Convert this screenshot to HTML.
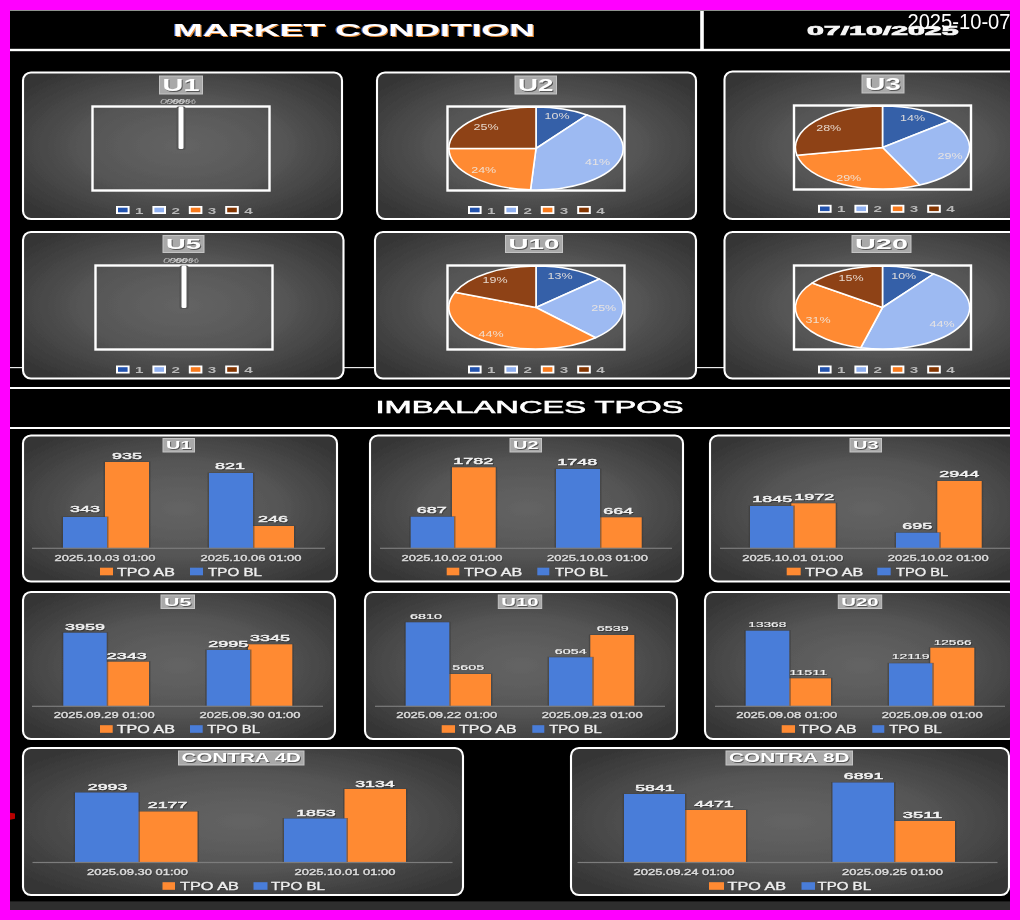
<!DOCTYPE html>
<html lang="en"><head><meta charset="utf-8"><title>Market Condition</title>
<style>
html,body{margin:0;padding:0;background:#ff00ff;}
body{width:1020px;height:920px;position:relative;overflow:hidden;font-family:'Liberation Sans', sans-serif;}
#stage{position:absolute;left:10px;top:10px;width:1000px;height:900px;overflow:hidden;background:#000;}
#stage svg{position:absolute;left:0;top:0;}
svg text{font-family:'Liberation Sans', sans-serif;}
#topline{position:absolute;left:10px;top:10px;width:1000px;height:1px;background:#8e928e;}
#stamp{position:absolute;right:9.2px;top:10.4px;font-size:22.4px;line-height:23px;color:#fff;white-space:nowrap;transform:scaleX(0.9);transform-origin:right center;}
</style></head><body>
<div id="stage">
<svg width="1000" height="900" viewBox="10 10 1000 900">
<g filter="url(#bs)"><defs>
<radialGradient id="pg" cx="50%" cy="50%" r="62%"><stop offset="0" stop-color="#646464"/><stop offset="0.5" stop-color="#565656"/><stop offset="1" stop-color="#363636"/></radialGradient>
<filter id="bs" x="0" y="0" width="1030" height="930" filterUnits="userSpaceOnUse"><feGaussianBlur stdDeviation="0.45"/></filter>
<filter id="bt" x="0" y="0" width="1030" height="930" filterUnits="userSpaceOnUse"><feGaussianBlur stdDeviation="0.75"/></filter>
</defs>
<rect x="10" y="10" width="1000" height="900" fill="#000"/>
<rect x="10" y="48.8" width="1000" height="2.4" fill="#fff"/>
<rect x="700.2" y="10" width="3.6" height="40" fill="#fff"/>
<rect x="10" y="367" width="1000" height="1.2" fill="#e8e8e8"/>
<rect x="10" y="387" width="1000" height="2" fill="#fff"/>
<rect x="10" y="427" width="1000" height="2" fill="#fff"/>
<rect x="23" y="72.5" width="319" height="146.5" rx="8" ry="8" fill="url(#pg)" stroke="#fff" stroke-width="2.1"/>
<rect x="159.5" y="76" width="43.0" height="18" fill="#a9a9a9" stroke="#c4c4c4" stroke-width="1"/>
<rect x="92.5" y="106.5" width="177.0" height="84.0" fill="none" stroke="#fff" stroke-width="2.4"/>
<rect x="176.4" y="106.5" width="9.2" height="43.5" rx="2" fill="#555"/>
<rect x="178.5" y="106.5" width="5.0" height="42.5" rx="1.5" fill="#fff"/>
<rect x="116.0" y="206.0" width="13.6" height="8.0" fill="#fff"/>
<rect x="118.0" y="207.7" width="9.6" height="4.6" fill="#2452ae"/>
<rect x="152.4" y="206.0" width="13.6" height="8.0" fill="#fff"/>
<rect x="154.4" y="207.7" width="9.6" height="4.6" fill="#8fb0f0"/>
<rect x="188.8" y="206.0" width="13.6" height="8.0" fill="#fff"/>
<rect x="190.8" y="207.7" width="9.6" height="4.6" fill="#f87a1c"/>
<rect x="225.2" y="206.0" width="13.6" height="8.0" fill="#fff"/>
<rect x="227.2" y="207.7" width="9.6" height="4.6" fill="#843400"/>
<rect x="377" y="72.5" width="319" height="146.5" rx="8" ry="8" fill="url(#pg)" stroke="#fff" stroke-width="2.1"/>
<rect x="515" y="76" width="41.5" height="18" fill="#a9a9a9" stroke="#c4c4c4" stroke-width="1"/>
<rect x="447.5" y="106.5" width="177.0" height="84.0" fill="none" stroke="#fff" stroke-width="2.4"/>
<path d="M536.0,148.5 L536.00,107.00 A87.1,41.5 0 0 1 587.20,114.93 Z" fill="#3560a8" stroke="#fff" stroke-width="1.6" stroke-linejoin="round"/>
<path d="M536.0,148.5 L587.20,114.93 A87.1,41.5 0 0 1 530.53,189.92 Z" fill="#9dbaf2" stroke="#fff" stroke-width="1.6" stroke-linejoin="round"/>
<path d="M536.0,148.5 L530.53,189.92 A87.1,41.5 0 0 1 448.90,148.50 Z" fill="#ff8a33" stroke="#fff" stroke-width="1.6" stroke-linejoin="round"/>
<path d="M536.0,148.5 L448.90,148.50 A87.1,41.5 0 0 1 536.00,107.00 Z" fill="#8e4312" stroke="#fff" stroke-width="1.6" stroke-linejoin="round"/>
<rect x="468.0" y="206.0" width="13.6" height="8.0" fill="#fff"/>
<rect x="470.0" y="207.7" width="9.6" height="4.6" fill="#2452ae"/>
<rect x="504.4" y="206.0" width="13.6" height="8.0" fill="#fff"/>
<rect x="506.4" y="207.7" width="9.6" height="4.6" fill="#8fb0f0"/>
<rect x="540.8" y="206.0" width="13.6" height="8.0" fill="#fff"/>
<rect x="542.8" y="207.7" width="9.6" height="4.6" fill="#f87a1c"/>
<rect x="577.2" y="206.0" width="13.6" height="8.0" fill="#fff"/>
<rect x="579.2" y="207.7" width="9.6" height="4.6" fill="#843400"/>
<rect x="724.5" y="71.5" width="318.5" height="147.5" rx="8" ry="8" fill="url(#pg)" stroke="#fff" stroke-width="2.1"/>
<rect x="862" y="75" width="42" height="18" fill="#a9a9a9" stroke="#c4c4c4" stroke-width="1"/>
<rect x="794" y="105.5" width="177" height="84.0" fill="none" stroke="#fff" stroke-width="2.4"/>
<path d="M882.5,147.5 L882.50,106.00 A87.1,41.5 0 0 1 949.61,121.05 Z" fill="#3560a8" stroke="#fff" stroke-width="1.6" stroke-linejoin="round"/>
<path d="M882.5,147.5 L949.61,121.05 A87.1,41.5 0 0 1 919.59,185.05 Z" fill="#9dbaf2" stroke="#fff" stroke-width="1.6" stroke-linejoin="round"/>
<path d="M882.5,147.5 L919.59,185.05 A87.1,41.5 0 0 1 796.94,155.28 Z" fill="#ff8a33" stroke="#fff" stroke-width="1.6" stroke-linejoin="round"/>
<path d="M882.5,147.5 L796.94,155.28 A87.1,41.5 0 0 1 882.50,106.00 Z" fill="#8e4312" stroke="#fff" stroke-width="1.6" stroke-linejoin="round"/>
<rect x="818.0" y="204.8" width="13.6" height="8.0" fill="#fff"/>
<rect x="820.0" y="206.5" width="9.6" height="4.6" fill="#2452ae"/>
<rect x="854.4" y="204.8" width="13.6" height="8.0" fill="#fff"/>
<rect x="856.4" y="206.5" width="9.6" height="4.6" fill="#8fb0f0"/>
<rect x="890.8" y="204.8" width="13.6" height="8.0" fill="#fff"/>
<rect x="892.8" y="206.5" width="9.6" height="4.6" fill="#f87a1c"/>
<rect x="927.2" y="204.8" width="13.6" height="8.0" fill="#fff"/>
<rect x="929.2" y="206.5" width="9.6" height="4.6" fill="#843400"/>
<rect x="23" y="232" width="320.5" height="146.5" rx="8" ry="8" fill="url(#pg)" stroke="#fff" stroke-width="2.1"/>
<rect x="163" y="235.5" width="41" height="17.0" fill="#a9a9a9" stroke="#c4c4c4" stroke-width="1"/>
<rect x="95.5" y="265.5" width="177.0" height="84.0" fill="none" stroke="#fff" stroke-width="2.4"/>
<rect x="179.4" y="265.5" width="9.2" height="43.5" rx="2" fill="#555"/>
<rect x="181.5" y="265.5" width="5.0" height="42.5" rx="1.5" fill="#fff"/>
<rect x="116.0" y="365.5" width="13.6" height="8.0" fill="#fff"/>
<rect x="118.0" y="367.2" width="9.6" height="4.6" fill="#2452ae"/>
<rect x="152.4" y="365.5" width="13.6" height="8.0" fill="#fff"/>
<rect x="154.4" y="367.2" width="9.6" height="4.6" fill="#8fb0f0"/>
<rect x="188.8" y="365.5" width="13.6" height="8.0" fill="#fff"/>
<rect x="190.8" y="367.2" width="9.6" height="4.6" fill="#f87a1c"/>
<rect x="225.2" y="365.5" width="13.6" height="8.0" fill="#fff"/>
<rect x="227.2" y="367.2" width="9.6" height="4.6" fill="#843400"/>
<rect x="375" y="232" width="321" height="146.5" rx="8" ry="8" fill="url(#pg)" stroke="#fff" stroke-width="2.1"/>
<rect x="505.5" y="235.5" width="57.0" height="17.0" fill="#a9a9a9" stroke="#c4c4c4" stroke-width="1"/>
<rect x="447.5" y="265.5" width="177.0" height="84.0" fill="none" stroke="#fff" stroke-width="2.4"/>
<path d="M536.0,307.5 L536.00,266.00 A87.1,41.5 0 0 1 599.49,279.09 Z" fill="#3560a8" stroke="#fff" stroke-width="1.6" stroke-linejoin="round"/>
<path d="M536.0,307.5 L599.49,279.09 A87.1,41.5 0 0 1 595.62,337.75 Z" fill="#9dbaf2" stroke="#fff" stroke-width="1.6" stroke-linejoin="round"/>
<path d="M536.0,307.5 L595.62,337.75 A87.1,41.5 0 0 1 455.02,292.22 Z" fill="#ff8a33" stroke="#fff" stroke-width="1.6" stroke-linejoin="round"/>
<path d="M536.0,307.5 L455.02,292.22 A87.1,41.5 0 0 1 536.00,266.00 Z" fill="#8e4312" stroke="#fff" stroke-width="1.6" stroke-linejoin="round"/>
<rect x="468.0" y="365.5" width="13.6" height="8.0" fill="#fff"/>
<rect x="470.0" y="367.2" width="9.6" height="4.6" fill="#2452ae"/>
<rect x="504.4" y="365.5" width="13.6" height="8.0" fill="#fff"/>
<rect x="506.4" y="367.2" width="9.6" height="4.6" fill="#8fb0f0"/>
<rect x="540.8" y="365.5" width="13.6" height="8.0" fill="#fff"/>
<rect x="542.8" y="367.2" width="9.6" height="4.6" fill="#f87a1c"/>
<rect x="577.2" y="365.5" width="13.6" height="8.0" fill="#fff"/>
<rect x="579.2" y="367.2" width="9.6" height="4.6" fill="#843400"/>
<rect x="724.5" y="232" width="318.5" height="146.5" rx="8" ry="8" fill="url(#pg)" stroke="#fff" stroke-width="2.1"/>
<rect x="852" y="235.5" width="59" height="17.0" fill="#a9a9a9" stroke="#c4c4c4" stroke-width="1"/>
<rect x="794" y="265.5" width="177" height="84.0" fill="none" stroke="#fff" stroke-width="2.4"/>
<path d="M882.5,307.5 L882.50,266.00 A87.1,41.5 0 0 1 933.70,273.93 Z" fill="#3560a8" stroke="#fff" stroke-width="1.6" stroke-linejoin="round"/>
<path d="M882.5,307.5 L933.70,273.93 A87.1,41.5 0 0 1 860.84,347.70 Z" fill="#9dbaf2" stroke="#fff" stroke-width="1.6" stroke-linejoin="round"/>
<path d="M882.5,307.5 L860.84,347.70 A87.1,41.5 0 0 1 812.03,283.11 Z" fill="#ff8a33" stroke="#fff" stroke-width="1.6" stroke-linejoin="round"/>
<path d="M882.5,307.5 L812.03,283.11 A87.1,41.5 0 0 1 882.50,266.00 Z" fill="#8e4312" stroke="#fff" stroke-width="1.6" stroke-linejoin="round"/>
<rect x="818.0" y="365.5" width="13.6" height="8.0" fill="#fff"/>
<rect x="820.0" y="367.2" width="9.6" height="4.6" fill="#2452ae"/>
<rect x="854.4" y="365.5" width="13.6" height="8.0" fill="#fff"/>
<rect x="856.4" y="367.2" width="9.6" height="4.6" fill="#8fb0f0"/>
<rect x="890.8" y="365.5" width="13.6" height="8.0" fill="#fff"/>
<rect x="892.8" y="367.2" width="9.6" height="4.6" fill="#f87a1c"/>
<rect x="927.2" y="365.5" width="13.6" height="8.0" fill="#fff"/>
<rect x="929.2" y="367.2" width="9.6" height="4.6" fill="#843400"/>
<rect x="23" y="435.5" width="314" height="146.0" rx="8" ry="8" fill="url(#pg)" stroke="#fff" stroke-width="2.1"/>
<rect x="163" y="438.5" width="31.5" height="13.5" fill="#a9a9a9" stroke="#c4c4c4" stroke-width="1"/>
<rect x="103.5" y="461.5" width="47.0" height="86.5" fill="#3a3a3a" opacity="0.55"/>
<rect x="105.0" y="462.0" width="44.0" height="86.0" fill="#ff8a33"/>
<rect x="249.5" y="525.5" width="46.0" height="22.5" fill="#3a3a3a" opacity="0.55"/>
<rect x="251.0" y="526.0" width="43.0" height="22.0" fill="#ff8a33"/>
<rect x="61.5" y="516.5" width="47.0" height="31.5" fill="#3a3a3a" opacity="0.55"/>
<rect x="63.0" y="517.0" width="44.0" height="31.0" fill="#4a7dd9"/>
<rect x="207.5" y="472.5" width="47.0" height="75.5" fill="#3a3a3a" opacity="0.55"/>
<rect x="209.0" y="473.0" width="44.0" height="75.0" fill="#4a7dd9"/>
<rect x="32" y="547.7" width="293" height="1.2" fill="#7c7c7c"/>
<rect x="100.0" y="567.7" width="13.0" height="7.6" fill="#ff8a33"/>
<rect x="190.0" y="567.7" width="13.0" height="7.6" fill="#4a7dd9"/>
<rect x="370" y="435.5" width="313" height="146.0" rx="8" ry="8" fill="url(#pg)" stroke="#fff" stroke-width="2.1"/>
<rect x="510" y="438.5" width="31.5" height="13.5" fill="#a9a9a9" stroke="#c4c4c4" stroke-width="1"/>
<rect x="450.5" y="466.8" width="46.7" height="81.2" fill="#3a3a3a" opacity="0.55"/>
<rect x="452.0" y="467.3" width="43.7" height="80.7" fill="#ff8a33"/>
<rect x="596.5" y="516.8" width="46.7" height="31.2" fill="#3a3a3a" opacity="0.55"/>
<rect x="598.0" y="517.3" width="43.7" height="30.7" fill="#ff8a33"/>
<rect x="409.2" y="516.2" width="46.3" height="31.8" fill="#3a3a3a" opacity="0.55"/>
<rect x="410.7" y="516.7" width="43.3" height="31.3" fill="#4a7dd9"/>
<rect x="554.5" y="468.5" width="47.0" height="79.5" fill="#3a3a3a" opacity="0.55"/>
<rect x="556.0" y="469.0" width="44.0" height="79.0" fill="#4a7dd9"/>
<rect x="380" y="547.7" width="292" height="1.2" fill="#7c7c7c"/>
<rect x="446.7" y="567.7" width="12.6" height="7.6" fill="#ff8a33"/>
<rect x="537.3" y="567.7" width="12.0" height="7.6" fill="#4a7dd9"/>
<rect x="710" y="435.5" width="314" height="146.0" rx="8" ry="8" fill="url(#pg)" stroke="#fff" stroke-width="2.1"/>
<rect x="850" y="438.5" width="31.5" height="13.5" fill="#a9a9a9" stroke="#c4c4c4" stroke-width="1"/>
<rect x="789.8" y="502.8" width="47.4" height="45.2" fill="#3a3a3a" opacity="0.55"/>
<rect x="791.3" y="503.3" width="44.4" height="44.7" fill="#ff8a33"/>
<rect x="935.8" y="480.5" width="47.4" height="67.5" fill="#3a3a3a" opacity="0.55"/>
<rect x="937.3" y="481.0" width="44.4" height="67.0" fill="#ff8a33"/>
<rect x="748.5" y="505.5" width="46.3" height="42.5" fill="#3a3a3a" opacity="0.55"/>
<rect x="750.0" y="506.0" width="43.3" height="42.0" fill="#4a7dd9"/>
<rect x="894.5" y="532.2" width="46.3" height="15.8" fill="#3a3a3a" opacity="0.55"/>
<rect x="896.0" y="532.7" width="43.3" height="15.3" fill="#4a7dd9"/>
<rect x="720" y="547.7" width="290" height="1.2" fill="#7c7c7c"/>
<rect x="786.7" y="567.7" width="14.0" height="7.6" fill="#ff8a33"/>
<rect x="877.3" y="567.7" width="13.4" height="7.6" fill="#4a7dd9"/>
<rect x="23" y="592" width="312" height="147" rx="8" ry="8" fill="url(#pg)" stroke="#fff" stroke-width="2.1"/>
<rect x="161" y="595" width="33.5" height="13.5" fill="#a9a9a9" stroke="#c4c4c4" stroke-width="1"/>
<rect x="103.2" y="661.2" width="47.3" height="44.8" fill="#3a3a3a" opacity="0.55"/>
<rect x="104.7" y="661.7" width="44.3" height="44.3" fill="#ff8a33"/>
<rect x="246.5" y="643.8" width="47.3" height="62.2" fill="#3a3a3a" opacity="0.55"/>
<rect x="248.0" y="644.3" width="44.3" height="61.7" fill="#ff8a33"/>
<rect x="61.8" y="632.2" width="46.4" height="73.8" fill="#3a3a3a" opacity="0.55"/>
<rect x="63.3" y="632.7" width="43.4" height="73.3" fill="#4a7dd9"/>
<rect x="205.2" y="649.5" width="46.3" height="56.5" fill="#3a3a3a" opacity="0.55"/>
<rect x="206.7" y="650.0" width="43.3" height="56.0" fill="#4a7dd9"/>
<rect x="32" y="705.7" width="291" height="1.2" fill="#7c7c7c"/>
<rect x="100.0" y="725.2" width="12.7" height="7.6" fill="#ff8a33"/>
<rect x="190.0" y="725.2" width="12.7" height="7.6" fill="#4a7dd9"/>
<rect x="365" y="592" width="312" height="147" rx="8" ry="8" fill="url(#pg)" stroke="#fff" stroke-width="2.1"/>
<rect x="498.3" y="595" width="43.400000000000034" height="13.5" fill="#a9a9a9" stroke="#c4c4c4" stroke-width="1"/>
<rect x="445.8" y="673.5" width="46.7" height="32.5" fill="#3a3a3a" opacity="0.55"/>
<rect x="447.3" y="674.0" width="43.7" height="32.0" fill="#ff8a33"/>
<rect x="588.8" y="634.5" width="47.0" height="71.5" fill="#3a3a3a" opacity="0.55"/>
<rect x="590.3" y="635.0" width="44.0" height="71.0" fill="#ff8a33"/>
<rect x="404.2" y="621.8" width="46.6" height="84.2" fill="#3a3a3a" opacity="0.55"/>
<rect x="405.7" y="622.3" width="43.6" height="83.7" fill="#4a7dd9"/>
<rect x="547.5" y="656.8" width="46.3" height="49.2" fill="#3a3a3a" opacity="0.55"/>
<rect x="549.0" y="657.3" width="43.3" height="48.7" fill="#4a7dd9"/>
<rect x="375" y="705.7" width="290" height="1.2" fill="#7c7c7c"/>
<rect x="441.7" y="725.2" width="13.3" height="7.6" fill="#ff8a33"/>
<rect x="532.3" y="725.2" width="12.0" height="7.6" fill="#4a7dd9"/>
<rect x="705" y="592" width="312" height="147" rx="8" ry="8" fill="url(#pg)" stroke="#fff" stroke-width="2.1"/>
<rect x="838.3" y="595" width="43.40000000000009" height="13.5" fill="#a9a9a9" stroke="#c4c4c4" stroke-width="1"/>
<rect x="785.8" y="677.8" width="46.7" height="28.2" fill="#3a3a3a" opacity="0.55"/>
<rect x="787.3" y="678.3" width="43.7" height="27.7" fill="#ff8a33"/>
<rect x="928.8" y="647.2" width="47.0" height="58.8" fill="#3a3a3a" opacity="0.55"/>
<rect x="930.3" y="647.7" width="44.0" height="58.3" fill="#ff8a33"/>
<rect x="744.2" y="630.2" width="46.6" height="75.8" fill="#3a3a3a" opacity="0.55"/>
<rect x="745.7" y="630.7" width="43.6" height="75.3" fill="#4a7dd9"/>
<rect x="887.5" y="662.8" width="46.3" height="43.2" fill="#3a3a3a" opacity="0.55"/>
<rect x="889.0" y="663.3" width="43.3" height="42.7" fill="#4a7dd9"/>
<rect x="715" y="705.7" width="290" height="1.2" fill="#7c7c7c"/>
<rect x="781.7" y="725.2" width="13.3" height="7.6" fill="#ff8a33"/>
<rect x="872.3" y="725.2" width="12.0" height="7.6" fill="#4a7dd9"/>
<rect x="23" y="748" width="440" height="147" rx="8" ry="8" fill="url(#pg)" stroke="#fff" stroke-width="2.1"/>
<rect x="178.5" y="751" width="125.5" height="14" fill="#a9a9a9" stroke="#c4c4c4" stroke-width="1"/>
<rect x="135.0" y="811.0" width="64.0" height="51.2" fill="#3a3a3a" opacity="0.55"/>
<rect x="136.5" y="811.5" width="61.0" height="50.7" fill="#ff8a33"/>
<rect x="343.0" y="788.5" width="64.5" height="73.7" fill="#3a3a3a" opacity="0.55"/>
<rect x="344.5" y="789.0" width="61.5" height="73.2" fill="#ff8a33"/>
<rect x="73.5" y="792.0" width="66.5" height="70.2" fill="#3a3a3a" opacity="0.55"/>
<rect x="75.0" y="792.5" width="63.5" height="69.7" fill="#4a7dd9"/>
<rect x="282.5" y="818.0" width="65.5" height="44.2" fill="#3a3a3a" opacity="0.55"/>
<rect x="284.0" y="818.5" width="62.5" height="43.7" fill="#4a7dd9"/>
<rect x="32.5" y="861.9" width="420.0" height="1.2" fill="#7c7c7c"/>
<rect x="162.5" y="882.2" width="12.5" height="7.6" fill="#ff8a33"/>
<rect x="253.5" y="882.2" width="14.0" height="7.6" fill="#4a7dd9"/>
<rect x="571" y="748" width="438" height="147" rx="8" ry="8" fill="url(#pg)" stroke="#fff" stroke-width="2.1"/>
<rect x="726" y="751" width="126.5" height="14" fill="#a9a9a9" stroke="#c4c4c4" stroke-width="1"/>
<rect x="681.5" y="809.5" width="66.0" height="52.7" fill="#3a3a3a" opacity="0.55"/>
<rect x="683.0" y="810.0" width="63.0" height="52.2" fill="#ff8a33"/>
<rect x="890.5" y="820.5" width="66.0" height="41.7" fill="#3a3a3a" opacity="0.55"/>
<rect x="892.0" y="821.0" width="63.0" height="41.2" fill="#ff8a33"/>
<rect x="622.5" y="793.5" width="64.0" height="68.7" fill="#3a3a3a" opacity="0.55"/>
<rect x="624.0" y="794.0" width="61.0" height="68.2" fill="#4a7dd9"/>
<rect x="831.0" y="782.0" width="64.5" height="80.2" fill="#3a3a3a" opacity="0.55"/>
<rect x="832.5" y="782.5" width="61.5" height="79.7" fill="#4a7dd9"/>
<rect x="577.5" y="861.9" width="420.0" height="1.2" fill="#7c7c7c"/>
<rect x="709.0" y="882.2" width="15.0" height="7.6" fill="#ff8a33"/>
<rect x="801.5" y="882.2" width="13.5" height="7.6" fill="#4a7dd9"/>
<rect x="10" y="901.5" width="1000" height="8.5" fill="#2e2e2e"/>
<rect x="10" y="901" width="1000" height="1" fill="#1a1a1a"/>
<path d="M10,812.8 L15,813.6 L15,818.8 L10,819.8 Z" fill="#b80000"/></g>
<g filter="url(#bt)"><text x="171.8" y="36.2" font-size="17.32" font-weight="bold" fill="#3a6ad0" textLength="362.0" lengthAdjust="spacingAndGlyphs" opacity="0.9" >MARKET CONDITION</text>
<text x="174.2" y="36.6" font-size="17.32" font-weight="bold" fill="#ff9a3c" textLength="362.0" lengthAdjust="spacingAndGlyphs" opacity="0.9" >MARKET CONDITION</text>
<text x="173.0" y="36.2" font-size="17.32" font-weight="bold" fill="#fff" textLength="362.0" lengthAdjust="spacingAndGlyphs" >MARKET CONDITION</text>
<text x="807.0" y="34.5" font-size="13.41" font-weight="bold" fill="#f6f6f6" textLength="151.5" lengthAdjust="spacingAndGlyphs" stroke="#f6f6f6" stroke-width="0.7">07/10/2025</text>
<text x="375.5" y="412.6" font-size="16.20" fill="#fff" textLength="308.0" lengthAdjust="spacingAndGlyphs" stroke="#fff" stroke-width="0.55">IMBALANCES TPOS</text>
<text x="163.5" y="91.6" font-size="15.59" font-weight="bold" fill="#555" textLength="37.0" lengthAdjust="spacingAndGlyphs" >U1</text>
<text x="162.5" y="90.6" font-size="15.59" font-weight="bold" fill="#fff" textLength="37.0" lengthAdjust="spacingAndGlyphs" >U1</text>
<text x="160.0" y="103.8" font-size="7.68" fill="#ddd" textLength="18.0" lengthAdjust="spacingAndGlyphs" opacity="0.75" font-style="italic">0%</text>
<text x="166.0" y="103.8" font-size="7.68" fill="#ddd" textLength="18.0" lengthAdjust="spacingAndGlyphs" opacity="0.75" font-style="italic">0%</text>
<text x="172.0" y="103.8" font-size="7.68" fill="#ddd" textLength="18.0" lengthAdjust="spacingAndGlyphs" opacity="0.75" font-style="italic">0%</text>
<text x="178.0" y="103.8" font-size="7.68" fill="#ddd" textLength="18.0" lengthAdjust="spacingAndGlyphs" opacity="0.75" font-style="italic">0%</text>
<text x="135.0" y="213.5" font-size="9.50" font-weight="bold" fill="#b8b8b8" textLength="8.5" lengthAdjust="spacingAndGlyphs" >1</text>
<text x="171.4" y="213.5" font-size="9.50" font-weight="bold" fill="#b8b8b8" textLength="8.5" lengthAdjust="spacingAndGlyphs" >2</text>
<text x="207.8" y="213.5" font-size="9.50" font-weight="bold" fill="#b8b8b8" textLength="8.5" lengthAdjust="spacingAndGlyphs" >3</text>
<text x="244.2" y="213.5" font-size="9.50" font-weight="bold" fill="#b8b8b8" textLength="8.5" lengthAdjust="spacingAndGlyphs" >4</text>
<text x="519.0" y="91.6" font-size="15.59" font-weight="bold" fill="#555" textLength="35.5" lengthAdjust="spacingAndGlyphs" >U2</text>
<text x="518.0" y="90.6" font-size="15.59" font-weight="bold" fill="#fff" textLength="35.5" lengthAdjust="spacingAndGlyphs" >U2</text>
<text x="544.5" y="119.2" font-size="9.08" fill="#f0e8e0" textLength="25.0" lengthAdjust="spacingAndGlyphs" opacity="0.9" >10%</text>
<text x="585.0" y="165.2" font-size="9.08" fill="#f0e8e0" textLength="25.0" lengthAdjust="spacingAndGlyphs" opacity="0.9" >41%</text>
<text x="471.2" y="173.2" font-size="9.08" fill="#f0e8e0" textLength="25.0" lengthAdjust="spacingAndGlyphs" opacity="0.9" >24%</text>
<text x="473.5" y="130.2" font-size="9.08" fill="#f0e8e0" textLength="25.0" lengthAdjust="spacingAndGlyphs" opacity="0.9" >25%</text>
<text x="487.0" y="213.5" font-size="9.50" font-weight="bold" fill="#b8b8b8" textLength="8.5" lengthAdjust="spacingAndGlyphs" >1</text>
<text x="523.4" y="213.5" font-size="9.50" font-weight="bold" fill="#b8b8b8" textLength="8.5" lengthAdjust="spacingAndGlyphs" >2</text>
<text x="559.8" y="213.5" font-size="9.50" font-weight="bold" fill="#b8b8b8" textLength="8.5" lengthAdjust="spacingAndGlyphs" >3</text>
<text x="596.2" y="213.5" font-size="9.50" font-weight="bold" fill="#b8b8b8" textLength="8.5" lengthAdjust="spacingAndGlyphs" >4</text>
<text x="866.0" y="90.6" font-size="15.59" font-weight="bold" fill="#555" textLength="36.0" lengthAdjust="spacingAndGlyphs" >U3</text>
<text x="865.0" y="89.6" font-size="15.59" font-weight="bold" fill="#fff" textLength="36.0" lengthAdjust="spacingAndGlyphs" >U3</text>
<text x="900.0" y="120.8" font-size="9.08" fill="#f0e8e0" textLength="25.0" lengthAdjust="spacingAndGlyphs" opacity="0.9" >14%</text>
<text x="937.5" y="159.2" font-size="9.08" fill="#f0e8e0" textLength="25.0" lengthAdjust="spacingAndGlyphs" opacity="0.9" >29%</text>
<text x="836.2" y="180.8" font-size="9.08" fill="#f0e8e0" textLength="25.0" lengthAdjust="spacingAndGlyphs" opacity="0.9" >29%</text>
<text x="816.2" y="131.2" font-size="9.08" fill="#f0e8e0" textLength="25.0" lengthAdjust="spacingAndGlyphs" opacity="0.9" >28%</text>
<text x="837.0" y="212.3" font-size="9.50" font-weight="bold" fill="#b8b8b8" textLength="8.5" lengthAdjust="spacingAndGlyphs" >1</text>
<text x="873.4" y="212.3" font-size="9.50" font-weight="bold" fill="#b8b8b8" textLength="8.5" lengthAdjust="spacingAndGlyphs" >2</text>
<text x="909.8" y="212.3" font-size="9.50" font-weight="bold" fill="#b8b8b8" textLength="8.5" lengthAdjust="spacingAndGlyphs" >3</text>
<text x="946.2" y="212.3" font-size="9.50" font-weight="bold" fill="#b8b8b8" textLength="8.5" lengthAdjust="spacingAndGlyphs" >4</text>
<text x="167.0" y="250.3" font-size="14.72" font-weight="bold" fill="#555" textLength="35.0" lengthAdjust="spacingAndGlyphs" >U5</text>
<text x="166.0" y="249.3" font-size="14.72" font-weight="bold" fill="#fff" textLength="35.0" lengthAdjust="spacingAndGlyphs" >U5</text>
<text x="163.0" y="262.8" font-size="7.68" fill="#ddd" textLength="18.0" lengthAdjust="spacingAndGlyphs" opacity="0.75" font-style="italic">0%</text>
<text x="169.0" y="262.8" font-size="7.68" fill="#ddd" textLength="18.0" lengthAdjust="spacingAndGlyphs" opacity="0.75" font-style="italic">0%</text>
<text x="175.0" y="262.8" font-size="7.68" fill="#ddd" textLength="18.0" lengthAdjust="spacingAndGlyphs" opacity="0.75" font-style="italic">0%</text>
<text x="181.0" y="262.8" font-size="7.68" fill="#ddd" textLength="18.0" lengthAdjust="spacingAndGlyphs" opacity="0.75" font-style="italic">0%</text>
<text x="135.0" y="373.0" font-size="9.50" font-weight="bold" fill="#b8b8b8" textLength="8.5" lengthAdjust="spacingAndGlyphs" >1</text>
<text x="171.4" y="373.0" font-size="9.50" font-weight="bold" fill="#b8b8b8" textLength="8.5" lengthAdjust="spacingAndGlyphs" >2</text>
<text x="207.8" y="373.0" font-size="9.50" font-weight="bold" fill="#b8b8b8" textLength="8.5" lengthAdjust="spacingAndGlyphs" >3</text>
<text x="244.2" y="373.0" font-size="9.50" font-weight="bold" fill="#b8b8b8" textLength="8.5" lengthAdjust="spacingAndGlyphs" >4</text>
<text x="509.5" y="250.3" font-size="14.72" font-weight="bold" fill="#555" textLength="51.0" lengthAdjust="spacingAndGlyphs" >U10</text>
<text x="508.5" y="249.3" font-size="14.72" font-weight="bold" fill="#fff" textLength="51.0" lengthAdjust="spacingAndGlyphs" >U10</text>
<text x="547.5" y="279.2" font-size="9.08" fill="#f0e8e0" textLength="25.0" lengthAdjust="spacingAndGlyphs" opacity="0.9" >13%</text>
<text x="591.2" y="311.2" font-size="9.08" fill="#f0e8e0" textLength="25.0" lengthAdjust="spacingAndGlyphs" opacity="0.9" >25%</text>
<text x="478.5" y="336.9" font-size="9.08" fill="#f0e8e0" textLength="25.0" lengthAdjust="spacingAndGlyphs" opacity="0.9" >44%</text>
<text x="482.5" y="283.2" font-size="9.08" fill="#f0e8e0" textLength="25.0" lengthAdjust="spacingAndGlyphs" opacity="0.9" >19%</text>
<text x="487.0" y="373.0" font-size="9.50" font-weight="bold" fill="#b8b8b8" textLength="8.5" lengthAdjust="spacingAndGlyphs" >1</text>
<text x="523.4" y="373.0" font-size="9.50" font-weight="bold" fill="#b8b8b8" textLength="8.5" lengthAdjust="spacingAndGlyphs" >2</text>
<text x="559.8" y="373.0" font-size="9.50" font-weight="bold" fill="#b8b8b8" textLength="8.5" lengthAdjust="spacingAndGlyphs" >3</text>
<text x="596.2" y="373.0" font-size="9.50" font-weight="bold" fill="#b8b8b8" textLength="8.5" lengthAdjust="spacingAndGlyphs" >4</text>
<text x="856.0" y="250.3" font-size="14.72" font-weight="bold" fill="#555" textLength="53.0" lengthAdjust="spacingAndGlyphs" >U20</text>
<text x="855.0" y="249.3" font-size="14.72" font-weight="bold" fill="#fff" textLength="53.0" lengthAdjust="spacingAndGlyphs" >U20</text>
<text x="891.2" y="278.8" font-size="9.08" fill="#f0e8e0" textLength="25.0" lengthAdjust="spacingAndGlyphs" opacity="0.9" >10%</text>
<text x="929.5" y="326.9" font-size="9.08" fill="#f0e8e0" textLength="25.0" lengthAdjust="spacingAndGlyphs" opacity="0.9" >44%</text>
<text x="805.5" y="322.8" font-size="9.08" fill="#f0e8e0" textLength="25.0" lengthAdjust="spacingAndGlyphs" opacity="0.9" >31%</text>
<text x="838.5" y="280.8" font-size="9.08" fill="#f0e8e0" textLength="25.0" lengthAdjust="spacingAndGlyphs" opacity="0.9" >15%</text>
<text x="837.0" y="373.0" font-size="9.50" font-weight="bold" fill="#b8b8b8" textLength="8.5" lengthAdjust="spacingAndGlyphs" >1</text>
<text x="873.4" y="373.0" font-size="9.50" font-weight="bold" fill="#b8b8b8" textLength="8.5" lengthAdjust="spacingAndGlyphs" >2</text>
<text x="909.8" y="373.0" font-size="9.50" font-weight="bold" fill="#b8b8b8" textLength="8.5" lengthAdjust="spacingAndGlyphs" >3</text>
<text x="946.2" y="373.0" font-size="9.50" font-weight="bold" fill="#b8b8b8" textLength="8.5" lengthAdjust="spacingAndGlyphs" >4</text>
<text x="167.0" y="450.4" font-size="11.69" font-weight="bold" fill="#555" textLength="25.5" lengthAdjust="spacingAndGlyphs" >U1</text>
<text x="166.0" y="449.4" font-size="11.69" font-weight="bold" fill="#fff" textLength="25.5" lengthAdjust="spacingAndGlyphs" >U1</text>
<text x="70.9" y="513.3" font-size="9.50" fill="#333" textLength="30.0" lengthAdjust="spacingAndGlyphs" opacity="0.8" stroke="#333" stroke-width="0.45">343</text>
<text x="70.0" y="512.4" font-size="9.50" fill="#f2f2f2" textLength="30.0" lengthAdjust="spacingAndGlyphs" stroke="#f2f2f2" stroke-width="0.45">343</text>
<text x="112.9" y="460.3" font-size="9.50" fill="#333" textLength="30.0" lengthAdjust="spacingAndGlyphs" opacity="0.8" stroke="#333" stroke-width="0.45">935</text>
<text x="112.0" y="459.4" font-size="9.50" fill="#f2f2f2" textLength="30.0" lengthAdjust="spacingAndGlyphs" stroke="#f2f2f2" stroke-width="0.45">935</text>
<text x="215.9" y="470.3" font-size="9.50" fill="#333" textLength="30.0" lengthAdjust="spacingAndGlyphs" opacity="0.8" stroke="#333" stroke-width="0.45">821</text>
<text x="215.0" y="469.4" font-size="9.50" fill="#f2f2f2" textLength="30.0" lengthAdjust="spacingAndGlyphs" stroke="#f2f2f2" stroke-width="0.45">821</text>
<text x="258.9" y="523.3" font-size="9.50" fill="#333" textLength="30.0" lengthAdjust="spacingAndGlyphs" opacity="0.8" stroke="#333" stroke-width="0.45">246</text>
<text x="258.0" y="522.4" font-size="9.50" fill="#f2f2f2" textLength="30.0" lengthAdjust="spacingAndGlyphs" stroke="#f2f2f2" stroke-width="0.45">246</text>
<text x="55.2" y="562.0" font-size="9.08" fill="#333" textLength="101.0" lengthAdjust="spacingAndGlyphs" opacity="0.7" stroke="#333" stroke-width="0.4">2025.10.03 01:00</text>
<text x="54.5" y="561.2" font-size="9.08" fill="#dcdcdc" textLength="101.0" lengthAdjust="spacingAndGlyphs" stroke="#dcdcdc" stroke-width="0.4">2025.10.03 01:00</text>
<text x="201.2" y="562.0" font-size="9.08" fill="#333" textLength="101.0" lengthAdjust="spacingAndGlyphs" opacity="0.7" stroke="#333" stroke-width="0.4">2025.10.06 01:00</text>
<text x="200.5" y="561.2" font-size="9.08" fill="#dcdcdc" textLength="101.0" lengthAdjust="spacingAndGlyphs" stroke="#dcdcdc" stroke-width="0.4">2025.10.06 01:00</text>
<text x="117.7" y="576.4" font-size="11.73" fill="#333" textLength="58.0" lengthAdjust="spacingAndGlyphs" opacity="0.7" >TPO AB</text>
<text x="117.0" y="575.7" font-size="11.73" fill="#efefef" textLength="58.0" lengthAdjust="spacingAndGlyphs" stroke="#efefef" stroke-width="0.35">TPO AB</text>
<text x="208.7" y="576.4" font-size="11.73" fill="#333" textLength="54.0" lengthAdjust="spacingAndGlyphs" opacity="0.7" >TPO BL</text>
<text x="208.0" y="575.7" font-size="11.73" fill="#efefef" textLength="54.0" lengthAdjust="spacingAndGlyphs" stroke="#efefef" stroke-width="0.35">TPO BL</text>
<text x="514.0" y="450.4" font-size="11.69" font-weight="bold" fill="#555" textLength="25.5" lengthAdjust="spacingAndGlyphs" >U2</text>
<text x="513.0" y="449.4" font-size="11.69" font-weight="bold" fill="#fff" textLength="25.5" lengthAdjust="spacingAndGlyphs" >U2</text>
<text x="417.6" y="513.6" font-size="9.50" fill="#333" textLength="30.0" lengthAdjust="spacingAndGlyphs" opacity="0.8" stroke="#333" stroke-width="0.45">687</text>
<text x="416.7" y="512.7" font-size="9.50" fill="#f2f2f2" textLength="30.0" lengthAdjust="spacingAndGlyphs" stroke="#f2f2f2" stroke-width="0.45">687</text>
<text x="454.2" y="465.0" font-size="9.50" fill="#333" textLength="40.0" lengthAdjust="spacingAndGlyphs" opacity="0.8" stroke="#333" stroke-width="0.45">1782</text>
<text x="453.3" y="464.1" font-size="9.50" fill="#f2f2f2" textLength="40.0" lengthAdjust="spacingAndGlyphs" stroke="#f2f2f2" stroke-width="0.45">1782</text>
<text x="558.2" y="466.0" font-size="9.50" fill="#333" textLength="40.0" lengthAdjust="spacingAndGlyphs" opacity="0.8" stroke="#333" stroke-width="0.45">1748</text>
<text x="557.3" y="465.1" font-size="9.50" fill="#f2f2f2" textLength="40.0" lengthAdjust="spacingAndGlyphs" stroke="#f2f2f2" stroke-width="0.45">1748</text>
<text x="604.2" y="515.0" font-size="9.50" fill="#333" textLength="30.0" lengthAdjust="spacingAndGlyphs" opacity="0.8" stroke="#333" stroke-width="0.45">664</text>
<text x="603.3" y="514.1" font-size="9.50" fill="#f2f2f2" textLength="30.0" lengthAdjust="spacingAndGlyphs" stroke="#f2f2f2" stroke-width="0.45">664</text>
<text x="402.2" y="562.0" font-size="9.08" fill="#333" textLength="101.0" lengthAdjust="spacingAndGlyphs" opacity="0.7" stroke="#333" stroke-width="0.4">2025.10.02 01:00</text>
<text x="401.5" y="561.2" font-size="9.08" fill="#dcdcdc" textLength="101.0" lengthAdjust="spacingAndGlyphs" stroke="#dcdcdc" stroke-width="0.4">2025.10.02 01:00</text>
<text x="547.7" y="562.0" font-size="9.08" fill="#333" textLength="101.0" lengthAdjust="spacingAndGlyphs" opacity="0.7" stroke="#333" stroke-width="0.4">2025.10.03 01:00</text>
<text x="547.0" y="561.2" font-size="9.08" fill="#dcdcdc" textLength="101.0" lengthAdjust="spacingAndGlyphs" stroke="#dcdcdc" stroke-width="0.4">2025.10.03 01:00</text>
<text x="464.7" y="576.4" font-size="11.73" fill="#333" textLength="58.3" lengthAdjust="spacingAndGlyphs" opacity="0.7" >TPO AB</text>
<text x="464.0" y="575.7" font-size="11.73" fill="#efefef" textLength="58.3" lengthAdjust="spacingAndGlyphs" stroke="#efefef" stroke-width="0.35">TPO AB</text>
<text x="555.7" y="576.4" font-size="11.73" fill="#333" textLength="52.7" lengthAdjust="spacingAndGlyphs" opacity="0.7" >TPO BL</text>
<text x="555.0" y="575.7" font-size="11.73" fill="#efefef" textLength="52.7" lengthAdjust="spacingAndGlyphs" stroke="#efefef" stroke-width="0.35">TPO BL</text>
<text x="854.0" y="450.4" font-size="11.69" font-weight="bold" fill="#555" textLength="25.5" lengthAdjust="spacingAndGlyphs" >U3</text>
<text x="853.0" y="449.4" font-size="11.69" font-weight="bold" fill="#fff" textLength="25.5" lengthAdjust="spacingAndGlyphs" >U3</text>
<text x="753.2" y="503.3" font-size="9.50" fill="#333" textLength="40.0" lengthAdjust="spacingAndGlyphs" opacity="0.8" stroke="#333" stroke-width="0.45">1845</text>
<text x="752.3" y="502.4" font-size="9.50" fill="#f2f2f2" textLength="40.0" lengthAdjust="spacingAndGlyphs" stroke="#f2f2f2" stroke-width="0.45">1845</text>
<text x="795.2" y="501.0" font-size="9.50" fill="#333" textLength="40.0" lengthAdjust="spacingAndGlyphs" opacity="0.8" stroke="#333" stroke-width="0.45">1972</text>
<text x="794.3" y="500.1" font-size="9.50" fill="#f2f2f2" textLength="40.0" lengthAdjust="spacingAndGlyphs" stroke="#f2f2f2" stroke-width="0.45">1972</text>
<text x="903.2" y="530.3" font-size="9.50" fill="#333" textLength="30.0" lengthAdjust="spacingAndGlyphs" opacity="0.8" stroke="#333" stroke-width="0.45">695</text>
<text x="902.3" y="529.4" font-size="9.50" fill="#f2f2f2" textLength="30.0" lengthAdjust="spacingAndGlyphs" stroke="#f2f2f2" stroke-width="0.45">695</text>
<text x="940.2" y="478.3" font-size="9.50" fill="#333" textLength="40.0" lengthAdjust="spacingAndGlyphs" opacity="0.8" stroke="#333" stroke-width="0.45">2944</text>
<text x="939.3" y="477.4" font-size="9.50" fill="#f2f2f2" textLength="40.0" lengthAdjust="spacingAndGlyphs" stroke="#f2f2f2" stroke-width="0.45">2944</text>
<text x="742.9" y="562.0" font-size="9.08" fill="#333" textLength="101.0" lengthAdjust="spacingAndGlyphs" opacity="0.7" stroke="#333" stroke-width="0.4">2025.10.01 01:00</text>
<text x="742.2" y="561.2" font-size="9.08" fill="#dcdcdc" textLength="101.0" lengthAdjust="spacingAndGlyphs" stroke="#dcdcdc" stroke-width="0.4">2025.10.01 01:00</text>
<text x="888.5" y="562.0" font-size="9.08" fill="#333" textLength="101.0" lengthAdjust="spacingAndGlyphs" opacity="0.7" stroke="#333" stroke-width="0.4">2025.10.02 01:00</text>
<text x="887.8" y="561.2" font-size="9.08" fill="#dcdcdc" textLength="101.0" lengthAdjust="spacingAndGlyphs" stroke="#dcdcdc" stroke-width="0.4">2025.10.02 01:00</text>
<text x="805.7" y="576.4" font-size="11.73" fill="#333" textLength="58.3" lengthAdjust="spacingAndGlyphs" opacity="0.7" >TPO AB</text>
<text x="805.0" y="575.7" font-size="11.73" fill="#efefef" textLength="58.3" lengthAdjust="spacingAndGlyphs" stroke="#efefef" stroke-width="0.35">TPO AB</text>
<text x="896.7" y="576.4" font-size="11.73" fill="#333" textLength="52.3" lengthAdjust="spacingAndGlyphs" opacity="0.7" >TPO BL</text>
<text x="896.0" y="575.7" font-size="11.73" fill="#efefef" textLength="52.3" lengthAdjust="spacingAndGlyphs" stroke="#efefef" stroke-width="0.35">TPO BL</text>
<text x="165.0" y="606.9" font-size="11.69" font-weight="bold" fill="#555" textLength="27.5" lengthAdjust="spacingAndGlyphs" >U5</text>
<text x="164.0" y="605.9" font-size="11.69" font-weight="bold" fill="#fff" textLength="27.5" lengthAdjust="spacingAndGlyphs" >U5</text>
<text x="65.9" y="631.0" font-size="9.50" fill="#333" textLength="40.0" lengthAdjust="spacingAndGlyphs" opacity="0.8" stroke="#333" stroke-width="0.45">3959</text>
<text x="65.0" y="630.1" font-size="9.50" fill="#f2f2f2" textLength="40.0" lengthAdjust="spacingAndGlyphs" stroke="#f2f2f2" stroke-width="0.45">3959</text>
<text x="107.6" y="660.0" font-size="9.50" fill="#333" textLength="40.0" lengthAdjust="spacingAndGlyphs" opacity="0.8" stroke="#333" stroke-width="0.45">2343</text>
<text x="106.7" y="659.1" font-size="9.50" fill="#f2f2f2" textLength="40.0" lengthAdjust="spacingAndGlyphs" stroke="#f2f2f2" stroke-width="0.45">2343</text>
<text x="209.2" y="648.3" font-size="9.50" fill="#333" textLength="40.0" lengthAdjust="spacingAndGlyphs" opacity="0.8" stroke="#333" stroke-width="0.45">2995</text>
<text x="208.3" y="647.4" font-size="9.50" fill="#f2f2f2" textLength="40.0" lengthAdjust="spacingAndGlyphs" stroke="#f2f2f2" stroke-width="0.45">2995</text>
<text x="250.9" y="641.6" font-size="9.50" fill="#333" textLength="40.0" lengthAdjust="spacingAndGlyphs" opacity="0.8" stroke="#333" stroke-width="0.45">3345</text>
<text x="250.0" y="640.7" font-size="9.50" fill="#f2f2f2" textLength="40.0" lengthAdjust="spacingAndGlyphs" stroke="#f2f2f2" stroke-width="0.45">3345</text>
<text x="54.5" y="719.0" font-size="9.08" fill="#333" textLength="101.0" lengthAdjust="spacingAndGlyphs" opacity="0.7" stroke="#333" stroke-width="0.4">2025.09.29 01:00</text>
<text x="53.8" y="718.2" font-size="9.08" fill="#dcdcdc" textLength="101.0" lengthAdjust="spacingAndGlyphs" stroke="#dcdcdc" stroke-width="0.4">2025.09.29 01:00</text>
<text x="200.2" y="719.0" font-size="9.08" fill="#333" textLength="101.0" lengthAdjust="spacingAndGlyphs" opacity="0.7" stroke="#333" stroke-width="0.4">2025.09.30 01:00</text>
<text x="199.5" y="718.2" font-size="9.08" fill="#dcdcdc" textLength="101.0" lengthAdjust="spacingAndGlyphs" stroke="#dcdcdc" stroke-width="0.4">2025.09.30 01:00</text>
<text x="117.4" y="733.9" font-size="11.73" fill="#333" textLength="58.3" lengthAdjust="spacingAndGlyphs" opacity="0.7" >TPO AB</text>
<text x="116.7" y="733.2" font-size="11.73" fill="#efefef" textLength="58.3" lengthAdjust="spacingAndGlyphs" stroke="#efefef" stroke-width="0.35">TPO AB</text>
<text x="208.0" y="733.9" font-size="11.73" fill="#333" textLength="52.7" lengthAdjust="spacingAndGlyphs" opacity="0.7" >TPO BL</text>
<text x="207.3" y="733.2" font-size="11.73" fill="#efefef" textLength="52.7" lengthAdjust="spacingAndGlyphs" stroke="#efefef" stroke-width="0.35">TPO BL</text>
<text x="502.3" y="606.9" font-size="11.69" font-weight="bold" fill="#555" textLength="37.4" lengthAdjust="spacingAndGlyphs" >U10</text>
<text x="501.3" y="605.9" font-size="11.69" font-weight="bold" fill="#fff" textLength="37.4" lengthAdjust="spacingAndGlyphs" >U10</text>
<text x="410.9" y="619.7" font-size="7.82" fill="#333" textLength="32.0" lengthAdjust="spacingAndGlyphs" opacity="0.8" stroke="#333" stroke-width="0.2">6810</text>
<text x="410.0" y="618.8" font-size="7.82" fill="#f2f2f2" textLength="32.0" lengthAdjust="spacingAndGlyphs" stroke="#f2f2f2" stroke-width="0.2">6810</text>
<text x="453.2" y="670.4" font-size="7.82" fill="#333" textLength="32.0" lengthAdjust="spacingAndGlyphs" opacity="0.8" stroke="#333" stroke-width="0.2">5605</text>
<text x="452.3" y="669.5" font-size="7.82" fill="#f2f2f2" textLength="32.0" lengthAdjust="spacingAndGlyphs" stroke="#f2f2f2" stroke-width="0.2">5605</text>
<text x="555.6" y="654.4" font-size="7.82" fill="#333" textLength="32.0" lengthAdjust="spacingAndGlyphs" opacity="0.8" stroke="#333" stroke-width="0.2">6054</text>
<text x="554.7" y="653.5" font-size="7.82" fill="#f2f2f2" textLength="32.0" lengthAdjust="spacingAndGlyphs" stroke="#f2f2f2" stroke-width="0.2">6054</text>
<text x="597.6" y="632.0" font-size="7.82" fill="#333" textLength="32.0" lengthAdjust="spacingAndGlyphs" opacity="0.8" stroke="#333" stroke-width="0.2">6539</text>
<text x="596.7" y="631.1" font-size="7.82" fill="#f2f2f2" textLength="32.0" lengthAdjust="spacingAndGlyphs" stroke="#f2f2f2" stroke-width="0.2">6539</text>
<text x="396.9" y="719.0" font-size="9.08" fill="#333" textLength="101.0" lengthAdjust="spacingAndGlyphs" opacity="0.7" stroke="#333" stroke-width="0.4">2025.09.22 01:00</text>
<text x="396.2" y="718.2" font-size="9.08" fill="#dcdcdc" textLength="101.0" lengthAdjust="spacingAndGlyphs" stroke="#dcdcdc" stroke-width="0.4">2025.09.22 01:00</text>
<text x="542.5" y="719.0" font-size="9.08" fill="#333" textLength="101.0" lengthAdjust="spacingAndGlyphs" opacity="0.7" stroke="#333" stroke-width="0.4">2025.09.23 01:00</text>
<text x="541.8" y="718.2" font-size="9.08" fill="#dcdcdc" textLength="101.0" lengthAdjust="spacingAndGlyphs" stroke="#dcdcdc" stroke-width="0.4">2025.09.23 01:00</text>
<text x="459.7" y="733.9" font-size="11.73" fill="#333" textLength="57.7" lengthAdjust="spacingAndGlyphs" opacity="0.7" >TPO AB</text>
<text x="459.0" y="733.2" font-size="11.73" fill="#efefef" textLength="57.7" lengthAdjust="spacingAndGlyphs" stroke="#efefef" stroke-width="0.35">TPO AB</text>
<text x="550.0" y="733.9" font-size="11.73" fill="#333" textLength="52.4" lengthAdjust="spacingAndGlyphs" opacity="0.7" >TPO BL</text>
<text x="549.3" y="733.2" font-size="11.73" fill="#efefef" textLength="52.4" lengthAdjust="spacingAndGlyphs" stroke="#efefef" stroke-width="0.35">TPO BL</text>
<text x="842.3" y="606.9" font-size="11.69" font-weight="bold" fill="#555" textLength="37.4" lengthAdjust="spacingAndGlyphs" >U20</text>
<text x="841.3" y="605.9" font-size="11.69" font-weight="bold" fill="#fff" textLength="37.4" lengthAdjust="spacingAndGlyphs" >U20</text>
<text x="749.2" y="627.8" font-size="7.26" fill="#333" textLength="38.0" lengthAdjust="spacingAndGlyphs" opacity="0.8" stroke="#333" stroke-width="0.15">13368</text>
<text x="748.3" y="626.9" font-size="7.26" fill="#f2f2f2" textLength="38.0" lengthAdjust="spacingAndGlyphs" stroke="#f2f2f2" stroke-width="0.15">13368</text>
<text x="790.2" y="675.8" font-size="7.26" fill="#333" textLength="38.0" lengthAdjust="spacingAndGlyphs" opacity="0.8" stroke="#333" stroke-width="0.15">11511</text>
<text x="789.3" y="674.9" font-size="7.26" fill="#f2f2f2" textLength="38.0" lengthAdjust="spacingAndGlyphs" stroke="#f2f2f2" stroke-width="0.15">11511</text>
<text x="892.6" y="660.2" font-size="7.26" fill="#333" textLength="38.0" lengthAdjust="spacingAndGlyphs" opacity="0.8" stroke="#333" stroke-width="0.15">12119</text>
<text x="891.7" y="659.3" font-size="7.26" fill="#f2f2f2" textLength="38.0" lengthAdjust="spacingAndGlyphs" stroke="#f2f2f2" stroke-width="0.15">12119</text>
<text x="934.6" y="645.8" font-size="7.26" fill="#333" textLength="38.0" lengthAdjust="spacingAndGlyphs" opacity="0.8" stroke="#333" stroke-width="0.15">12566</text>
<text x="933.7" y="644.9" font-size="7.26" fill="#f2f2f2" textLength="38.0" lengthAdjust="spacingAndGlyphs" stroke="#f2f2f2" stroke-width="0.15">12566</text>
<text x="736.9" y="719.0" font-size="9.08" fill="#333" textLength="101.0" lengthAdjust="spacingAndGlyphs" opacity="0.7" stroke="#333" stroke-width="0.4">2025.09.08 01:00</text>
<text x="736.2" y="718.2" font-size="9.08" fill="#dcdcdc" textLength="101.0" lengthAdjust="spacingAndGlyphs" stroke="#dcdcdc" stroke-width="0.4">2025.09.08 01:00</text>
<text x="882.5" y="719.0" font-size="9.08" fill="#333" textLength="101.0" lengthAdjust="spacingAndGlyphs" opacity="0.7" stroke="#333" stroke-width="0.4">2025.09.09 01:00</text>
<text x="881.8" y="718.2" font-size="9.08" fill="#dcdcdc" textLength="101.0" lengthAdjust="spacingAndGlyphs" stroke="#dcdcdc" stroke-width="0.4">2025.09.09 01:00</text>
<text x="799.7" y="733.9" font-size="11.73" fill="#333" textLength="57.7" lengthAdjust="spacingAndGlyphs" opacity="0.7" >TPO AB</text>
<text x="799.0" y="733.2" font-size="11.73" fill="#efefef" textLength="57.7" lengthAdjust="spacingAndGlyphs" stroke="#efefef" stroke-width="0.35">TPO AB</text>
<text x="890.0" y="733.9" font-size="11.73" fill="#333" textLength="52.4" lengthAdjust="spacingAndGlyphs" opacity="0.7" >TPO BL</text>
<text x="889.3" y="733.2" font-size="11.73" fill="#efefef" textLength="52.4" lengthAdjust="spacingAndGlyphs" stroke="#efefef" stroke-width="0.35">TPO BL</text>
<text x="182.5" y="763.3" font-size="12.12" font-weight="bold" fill="#555" textLength="119.5" lengthAdjust="spacingAndGlyphs" >CONTRA 4D</text>
<text x="181.5" y="762.3" font-size="12.12" font-weight="bold" fill="#fff" textLength="119.5" lengthAdjust="spacingAndGlyphs" >CONTRA 4D</text>
<text x="88.7" y="790.7" font-size="9.22" fill="#333" textLength="39.5" lengthAdjust="spacingAndGlyphs" opacity="0.8" stroke="#333" stroke-width="0.45">2993</text>
<text x="87.8" y="789.8" font-size="9.22" fill="#f2f2f2" textLength="39.5" lengthAdjust="spacingAndGlyphs" stroke="#f2f2f2" stroke-width="0.45">2993</text>
<text x="148.7" y="809.2" font-size="9.22" fill="#333" textLength="39.5" lengthAdjust="spacingAndGlyphs" opacity="0.8" stroke="#333" stroke-width="0.45">2177</text>
<text x="147.8" y="808.3" font-size="9.22" fill="#f2f2f2" textLength="39.5" lengthAdjust="spacingAndGlyphs" stroke="#f2f2f2" stroke-width="0.45">2177</text>
<text x="297.1" y="816.7" font-size="9.22" fill="#333" textLength="39.5" lengthAdjust="spacingAndGlyphs" opacity="0.8" stroke="#333" stroke-width="0.45">1853</text>
<text x="296.2" y="815.8" font-size="9.22" fill="#f2f2f2" textLength="39.5" lengthAdjust="spacingAndGlyphs" stroke="#f2f2f2" stroke-width="0.45">1853</text>
<text x="356.1" y="787.7" font-size="9.22" fill="#333" textLength="39.5" lengthAdjust="spacingAndGlyphs" opacity="0.8" stroke="#333" stroke-width="0.45">3134</text>
<text x="355.2" y="786.8" font-size="9.22" fill="#f2f2f2" textLength="39.5" lengthAdjust="spacingAndGlyphs" stroke="#f2f2f2" stroke-width="0.45">3134</text>
<text x="87.7" y="875.5" font-size="9.08" fill="#333" textLength="101.0" lengthAdjust="spacingAndGlyphs" opacity="0.7" stroke="#333" stroke-width="0.4">2025.09.30 01:00</text>
<text x="87.0" y="874.8" font-size="9.08" fill="#dcdcdc" textLength="101.0" lengthAdjust="spacingAndGlyphs" stroke="#dcdcdc" stroke-width="0.4">2025.09.30 01:00</text>
<text x="295.2" y="875.5" font-size="9.08" fill="#333" textLength="101.0" lengthAdjust="spacingAndGlyphs" opacity="0.7" stroke="#333" stroke-width="0.4">2025.10.01 01:00</text>
<text x="294.5" y="874.8" font-size="9.08" fill="#dcdcdc" textLength="101.0" lengthAdjust="spacingAndGlyphs" stroke="#dcdcdc" stroke-width="0.4">2025.10.01 01:00</text>
<text x="180.7" y="890.9" font-size="11.73" fill="#333" textLength="59.0" lengthAdjust="spacingAndGlyphs" opacity="0.7" >TPO AB</text>
<text x="180.0" y="890.2" font-size="11.73" fill="#efefef" textLength="59.0" lengthAdjust="spacingAndGlyphs" stroke="#efefef" stroke-width="0.35">TPO AB</text>
<text x="271.7" y="890.9" font-size="11.73" fill="#333" textLength="54.0" lengthAdjust="spacingAndGlyphs" opacity="0.7" >TPO BL</text>
<text x="271.0" y="890.2" font-size="11.73" fill="#efefef" textLength="54.0" lengthAdjust="spacingAndGlyphs" stroke="#efefef" stroke-width="0.35">TPO BL</text>
<text x="730.0" y="763.3" font-size="12.12" font-weight="bold" fill="#555" textLength="120.5" lengthAdjust="spacingAndGlyphs" >CONTRA 8D</text>
<text x="729.0" y="762.3" font-size="12.12" font-weight="bold" fill="#fff" textLength="120.5" lengthAdjust="spacingAndGlyphs" >CONTRA 8D</text>
<text x="636.1" y="791.7" font-size="9.22" fill="#333" textLength="39.5" lengthAdjust="spacingAndGlyphs" opacity="0.8" stroke="#333" stroke-width="0.45">5841</text>
<text x="635.2" y="790.8" font-size="9.22" fill="#f2f2f2" textLength="39.5" lengthAdjust="spacingAndGlyphs" stroke="#f2f2f2" stroke-width="0.45">5841</text>
<text x="695.1" y="808.2" font-size="9.22" fill="#333" textLength="39.5" lengthAdjust="spacingAndGlyphs" opacity="0.8" stroke="#333" stroke-width="0.45">4471</text>
<text x="694.2" y="807.3" font-size="9.22" fill="#f2f2f2" textLength="39.5" lengthAdjust="spacingAndGlyphs" stroke="#f2f2f2" stroke-width="0.45">4471</text>
<text x="844.6" y="780.2" font-size="9.22" fill="#333" textLength="39.5" lengthAdjust="spacingAndGlyphs" opacity="0.8" stroke="#333" stroke-width="0.45">6891</text>
<text x="843.8" y="779.3" font-size="9.22" fill="#f2f2f2" textLength="39.5" lengthAdjust="spacingAndGlyphs" stroke="#f2f2f2" stroke-width="0.45">6891</text>
<text x="903.6" y="819.2" font-size="9.22" fill="#333" textLength="39.5" lengthAdjust="spacingAndGlyphs" opacity="0.8" stroke="#333" stroke-width="0.45">3511</text>
<text x="902.8" y="818.3" font-size="9.22" fill="#f2f2f2" textLength="39.5" lengthAdjust="spacingAndGlyphs" stroke="#f2f2f2" stroke-width="0.45">3511</text>
<text x="634.2" y="875.5" font-size="9.08" fill="#333" textLength="101.0" lengthAdjust="spacingAndGlyphs" opacity="0.7" stroke="#333" stroke-width="0.4">2025.09.24 01:00</text>
<text x="633.5" y="874.8" font-size="9.08" fill="#dcdcdc" textLength="101.0" lengthAdjust="spacingAndGlyphs" stroke="#dcdcdc" stroke-width="0.4">2025.09.24 01:00</text>
<text x="842.7" y="875.5" font-size="9.08" fill="#333" textLength="101.0" lengthAdjust="spacingAndGlyphs" opacity="0.7" stroke="#333" stroke-width="0.4">2025.09.25 01:00</text>
<text x="842.0" y="874.8" font-size="9.08" fill="#dcdcdc" textLength="101.0" lengthAdjust="spacingAndGlyphs" stroke="#dcdcdc" stroke-width="0.4">2025.09.25 01:00</text>
<text x="728.2" y="890.9" font-size="11.73" fill="#333" textLength="58.5" lengthAdjust="spacingAndGlyphs" opacity="0.7" >TPO AB</text>
<text x="727.5" y="890.2" font-size="11.73" fill="#efefef" textLength="58.5" lengthAdjust="spacingAndGlyphs" stroke="#efefef" stroke-width="0.35">TPO AB</text>
<text x="818.2" y="890.9" font-size="11.73" fill="#333" textLength="53.5" lengthAdjust="spacingAndGlyphs" opacity="0.7" >TPO BL</text>
<text x="817.5" y="890.2" font-size="11.73" fill="#efefef" textLength="53.5" lengthAdjust="spacingAndGlyphs" stroke="#efefef" stroke-width="0.35">TPO BL</text></g>
</svg>
</div>
<div id="topline"></div>
<div id="stamp">2025-10-07</div>
</body></html>
